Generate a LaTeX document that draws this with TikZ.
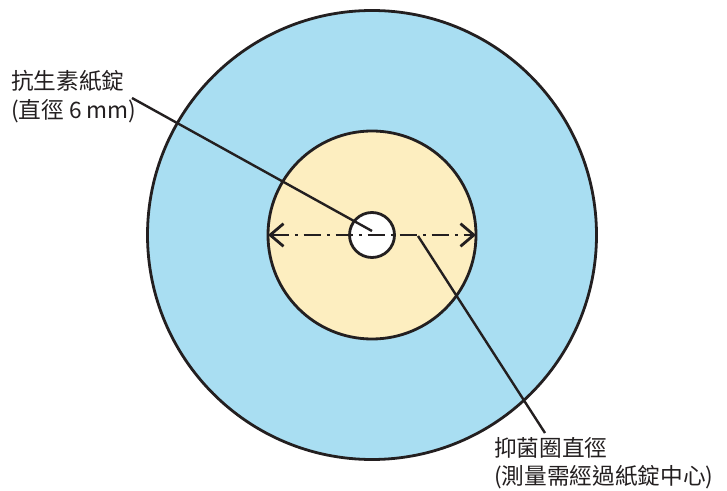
\documentclass[tikz,border=0pt]{standalone}
\usepackage{fontspec}
\setmainfont{Noto Sans CJK TC}
\usetikzlibrary{arrows.meta}
\definecolor{zoneblue}{RGB}{169,222,242}
\definecolor{haloyellow}{RGB}{253,238,192}
\definecolor{inkgray}{RGB}{35,31,32}

\begin{document}
\begin{tikzpicture}[x=0.75pt,y=-0.75pt]
    \tikzset{ring/.style={draw=inkgray,line width=2.1pt},
      leader/.style={draw=inkgray,line width=1.8pt},
      diam/.style={draw=inkgray,line width=2.1pt,dash pattern=on 13pt off 4.5pt on 2pt off 4.5pt,
        {Straight Barb[length=10pt,width=17pt,line width=2.1pt]}-{Straight Barb[length=10pt,width=17pt,line width=2.1pt]}},
      lbl/.style={font=\fontsize{17}{21.5}\selectfont,text=inkgray,align=left,inner sep=0pt,anchor=north west}}
\useasboundingbox (0,0) rectangle (727,491);
% plate, inhibition zone and disk
\coordinate (c) at (372,235);
\draw[ring,fill=zoneblue] (c) circle[radius=224.5];
\draw[ring,fill=haloyellow] (c) circle[radius=104];
\draw[ring,fill=white] (c) circle[radius=22.5];
\coordinate (dl) at (268,235);
\coordinate (dr) at (476,235);
\draw[diam] (dl) -- (dr);
% labels
\node(disk)[lbl] at (11,70) {抗生素紙錠\\(直徑 6 mm)};
\node(zone)[lbl] at (494,437) {抑菌圈直徑\\(測量需經過紙錠中心)};
\coordinate (diskend) at (372,231);
\coordinate (diskstart) at (132,98);
\coordinate (zonestart) at (418,236);
\coordinate (zoneend) at (545,433);
\draw[leader] (diskstart) -- (diskend);
\draw[leader] (zonestart) -- (zoneend);
\end{tikzpicture}
\end{document}
